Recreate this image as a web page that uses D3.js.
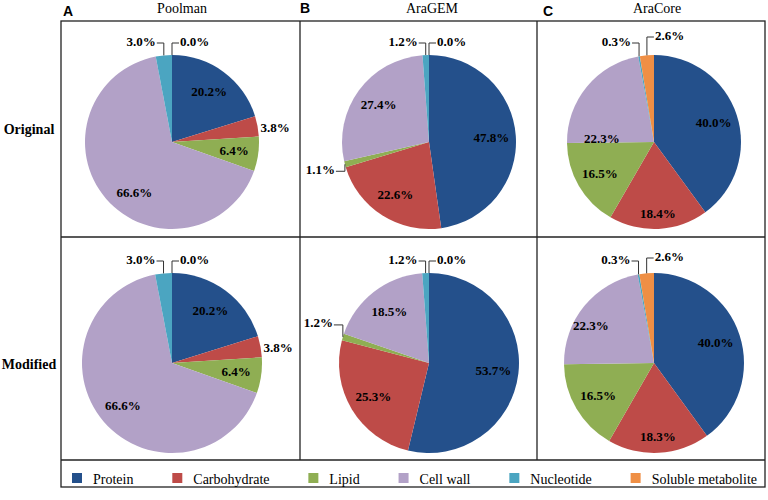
<!DOCTYPE html>
<html>
<head>
<meta charset="utf-8">
<script src="https://cdnjs.cloudflare.com/ajax/libs/d3/7.8.5/d3.min.js"></script>
<style>
  body { margin: 0; background: #fff; }
</style>
</head>
<body>
<svg id="chart" width="768" height="500" font-family="'Liberation Serif', 'Times New Roman', 'DejaVu Serif', serif"></svg>
<script>
// data
var categories = ["Protein", "Carbohydrate", "Lipid", "Cell wall", "Nucleotide", "Soluble metabolite"];
var colors = ["#24508b", "#be4b48", "#8fae53", "#b2a1c7", "#4ba5c1", "#ef8f45"];
var models = ["Poolman", "AraGEM", "AraCore"];
var panelLetters = ["A", "B", "C"];
var rowNames = ["Original", "Modified"];

var poolmanOriginal = [20.2, 3.8, 6.4, 66.6, 3.0, 0.0];
var poolmanModified = [20.2, 3.8, 6.4, 66.6, 3.0, 0.0];
var aragemOriginal = [47.8, 22.6, 1.1, 27.4, 1.2, 0.0];
var aragemModified = [53.7, 25.3, 1.2, 18.5, 1.2, 0.0];
var aracoreOriginal = [40.0, 18.4, 16.5, 22.3, 0.3, 2.6];
var aracoreModified = [40.0, 18.3, 16.5, 22.3, 0.3, 2.6];

var panels = [
  [poolmanOriginal, aragemOriginal, aracoreOriginal],
  [poolmanModified, aragemModified, aracoreModified]
];

// layout
var gridX = [61, 300, 537, 765];
var gridY = [21, 237, 460, 487];
var pieCx = [172, 429, 654];
var pieCy = [142, 363];
var pieR = [87, 90];
var titleX = [182, 432, 657];
var letterX = [68, 305, 548];

// label tweaks (Excel "best fit" placement), key = col-row-category
var labelNudge = {
  "0-0-3": {angle: 217},
  "2-0-3": {angle: 274, k: 0.6},
  "2-0-1": {k: 0.82},
  "2-1-1": {k: 0.82},
  "2-1-3": {angle: 301, k: 0.82},
  "1-0-2": {dy: 5},
  "1-1-2": {dy: -14},
  "2-0-5": {dy: -6},
  "2-1-5": {dy: -3}
};

var svg = d3.select("#chart");
var serif = "'Liberation Serif', 'Times New Roman', 'DejaVu Serif', serif";

// panel borders
var frame = svg.append("g")
  .attr("fill", "none")
  .attr("stroke", "#222")
  .attr("stroke-width", 1.3);
frame.append("rect")
  .attr("x", gridX[0]).attr("y", gridY[0])
  .attr("width", gridX[3] - gridX[0]).attr("height", gridY[3] - gridY[0]);
[gridY[1], gridY[2]].forEach(function(y) {
  frame.append("line").attr("x1", gridX[0]).attr("x2", gridX[3]).attr("y1", y).attr("y2", y);
});
[gridX[1], gridX[2]].forEach(function(x) {
  frame.append("line").attr("x1", x).attr("x2", x).attr("y1", gridY[0]).attr("y2", gridY[2]);
});

// titles
models.forEach(function(m, i) {
  svg.append("text")
    .attr("x", titleX[i]).attr("y", 8)
    .attr("text-anchor", "middle")
    .attr("dominant-baseline", "central")
    .style("font-family", serif)
    .attr("font-size", 14)
    .text(m);
  svg.append("text")
    .attr("x", letterX[i]).attr("y", i == 1 ? 8 : 11)
    .attr("text-anchor", "middle")
    .attr("dominant-baseline", "central")
    .style("font-family", "'Liberation Sans', Arial, sans-serif")
    .attr("font-weight", "bold")
    .attr("font-size", 14)
    .text(panelLetters[i]);
});

// row labels
var rowLabelY = [129, 364];
rowNames.forEach(function(n, j) {
  svg.append("text")
    .attr("x", 29).attr("y", rowLabelY[j])
    .attr("text-anchor", "middle")
    .attr("dominant-baseline", "central")
    .style("font-family", serif)
    .attr("font-weight", "bold")
    .attr("font-size", 14)
    .text(n);
});

var pie = d3.pie().sort(null).value(function(d) { return d; });

function drawPie(values, col, row) {
  var r = pieR[row];
  var g = svg.append("g")
    .attr("transform", "translate(" + pieCx[col] + "," + pieCy[row] + ")");
  var arc = d3.arc().innerRadius(0).outerRadius(r);
  var arcs = pie(values);

  g.selectAll("path")
    .data(arcs)
    .join("path")
    .attr("d", arc)
    .attr("fill", function(d, i) { return colors[i]; });

  var labels = g.append("g")
    .style("font-family", serif)
    .attr("font-weight", "bold")
    .attr("font-size", 13);

  arcs.forEach(function(d, i) {
    var v = values[i];
    var txt = v.toFixed(1) + "%";
    var nudge = labelNudge[col + "-" + row + "-" + i] || {};
    var mid = (d.startAngle + d.endAngle) / 2;
    var ex = Math.sin(mid) * r, ey = -Math.cos(mid) * r;

    if (v >= 5) {
      var a = nudge.angle != null ? nudge.angle * Math.PI / 180 : mid;
      var k = nudge.k || 0.72;
      labels.append("text")
        .attr("x", Math.sin(a) * r * k)
        .attr("y", -Math.cos(a) * r * k)
        .attr("text-anchor", "middle")
        .attr("dominant-baseline", "central")
        .text(txt);
      return;
    }
    if (v >= 3.5) {
      // small slice, label sits just outside, no leader
      labels.append("text")
        .attr("x", ex + 3).attr("y", ey + 1)
        .attr("dominant-baseline", "central")
        .text(txt);
      return;
    }

    // leader-line labels
    var top = ey < -0.8 * r;
    var right = top ? i == values.length - 1 : ex > 0;
    var ty, tx;
    if (top) {
      ty = -r - 14 + (nudge.dy || 0);
      tx = right ? ex + 8 : ex - 8;
    } else {
      ty = ey + (nudge.dy || 0);
      tx = right ? ex + 10 : ex - 10;
    }
    var ly = ty + 2;
    labels.append("path")
      .attr("d", "M" + (right ? tx - 1 : tx + 1) + "," + ly + "H" + ex + "V" + ey)
      .attr("fill", "none")
      .attr("stroke", "#333")
      .attr("stroke-width", 1);
    labels.append("text")
      .attr("x", tx).attr("y", ty)
      .attr("text-anchor", right ? "start" : "end")
      .attr("dominant-baseline", "central")
      .text(txt);
  });
}

panels.forEach(function(rowData, row) {
  rowData.forEach(function(values, col) {
    drawPie(values, col, row);
  });
});

// legend
var legendY = 479;
var legend = svg.append("g");
var items = legend.selectAll("g")
  .data(categories)
  .join("g");
items.append("rect")
  .attr("width", 10).attr("height", 10)
  .attr("y", legendY - 6)
  .attr("fill", function(d, i) { return colors[i]; });
items.append("text")
  .attr("x", 21).attr("y", legendY)
  .attr("dominant-baseline", "central")
  .style("font-family", serif)
  .attr("font-size", 14)
  .text(function(d) { return d; });

var widths = [];
items.selectAll("text").each(function() { widths.push(this.getComputedTextLength()); });
var startX = 72, endX = 757;
var used = d3.sum(widths) + 21 * widths.length;
var gap = (endX - startX - used) / (widths.length - 1);
var pos = startX;
items.attr("transform", function(d, i) {
  var x = pos;
  pos += 21 + widths[i] + gap;
  return "translate(" + x + ",0)";
});
</script>
</body>
</html>
